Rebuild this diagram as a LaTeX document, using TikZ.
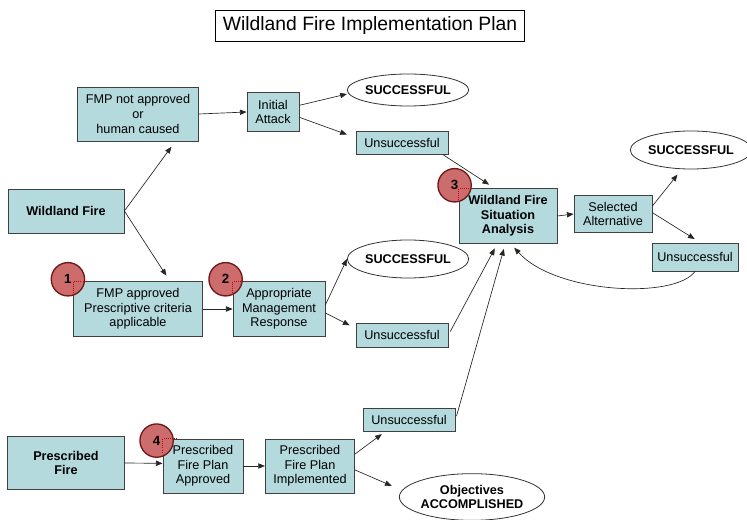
\documentclass[tikz,border=0pt]{standalone}
\usepackage{fontspec}
\setmainfont{Liberation Sans}
\usetikzlibrary{arrows.meta,shapes.geometric}
\definecolor{boxfill}{RGB}{180,218,222}
\definecolor{markfill}{RGB}{205,108,108}
\definecolor{markline}{RGB}{110,25,25}

\begin{document}
\begin{tikzpicture}[x=0.75pt,y=-0.75pt,
  every node/.style = {align=center, font=\fontsize{9.5}{11}\selectfont},
  dims/.style 2 args = {minimum width=#1, minimum height=#2},
  box/.style = {shape=rectangle, draw=black!75, fill=boxfill, line width=0.6pt, inner sep=1pt},
  result/.style = {shape=ellipse, draw=black!80, fill=white, line width=0.6pt, inner sep=0pt,
    font=\fontsize{9.5}{11}\selectfont\bfseries},
  marker/.style = {shape=circle, draw=markline, line width=1pt, fill=markfill,
    minimum size=25pt, inner sep=0pt, font=\fontsize{10}{12}\selectfont\bfseries},
  arr/.style = {-{Triangle[length=5pt,width=4pt]}, black!85, line width=0.5pt}]
  \useasboundingbox (0,0) rectangle (747,520);
  \node[draw, line width=0.6pt, dims={232pt}{23pt}, font=\fontsize{14.5}{16}\selectfont] (title) at (370,26) {Wildland Fire Implementation Plan};

  % wildland fire branch
  \node[box, dims={87pt}{33pt}, font=\fontsize{9.5}{11}\selectfont\bfseries] (wildland) at (66,211) {Wildland Fire};
  \node[box, dims={90.75pt}{40.5pt}] (notappr) at (138,114) {FMP not approved\\or\\human caused};
  \node[box, dims={39pt}{29.25pt}] (initial) at (273,112) {Initial\\Attack};
  \node[result, dims={86pt}{24pt}] (succA) at (408,90) {SUCCESSFUL};
  \node[box, dims={69pt}{17pt}] (unsuccA) at (402,143) {Unsuccessful};
  \node[box, dims={97pt}{41pt}] (appr) at (138,309) {FMP approved\\Prescriptive criteria\\applicable};
  \node[box, dims={69pt}{41pt}] (amr) at (279,309) {Appropriate\\Management\\Response};
  \node[result, dims={88pt}{28.5pt}] (succB) at (408,259) {SUCCESSFUL};
  \node[box, dims={69pt}{18pt}] (unsuccB) at (402,335) {Unsuccessful};

  % situation analysis
  \node[box, dims={73.5pt}{41pt}, font=\fontsize{9.5}{11}\selectfont\bfseries] (wfsa) at (508,216) {Wildland Fire\\Situation\\Analysis};
  \node[box, dims={58.5pt}{28pt}] (selalt) at (613,214) {Selected\\Alternative};
  \node[result, dims={81pt}{28.5pt}] (succC) at (691,150) {SUCCESSFUL};
  \node[box, dims={64.5pt}{21pt}] (unsuccC) at (695,257) {Unsuccessful};

  % prescribed fire branch
  \node[box, dims={88pt}{40pt}, font=\fontsize{9.5}{11}\selectfont\bfseries] (prescribed) at (66,463) {Prescribed\\Fire};
  \node[box, dims={60pt}{40.5pt}] (pfpa) at (203,466) {Prescribed\\Fire Plan\\Approved};
  \node[box, dims={67pt}{40.5pt}] (pfpi) at (310,466) {Prescribed\\Fire Plan\\Implemented};
  \node[box, dims={69pt}{17pt}] (unsuccD) at (409,420) {Unsuccessful};
  \node[result, dims={97.5pt}{35pt}] (objectives) at (472,497) {Objectives\\ACCOMPLISHED};

  % numbered markers
  \node[marker] (m1) at ([shift={(-5,-2)}]appr.north west) {1};
  \node[marker] (m2) at ([shift={(-7,-2)}]amr.north west) {2};
  \node[marker] (m3) at ([shift={(-4,-3)}]wfsa.north west) {3};
  \node[marker] (m4) at ([shift={(-6,2)}]pfpa.north west) {4};
  \foreach \b in {appr,amr,wfsa,pfpa}
    \draw[red!80!black, densely dotted, line width=0.6pt] ([xshift=11pt]\b.north west) -- (\b.north west) -- ([yshift=-10pt]\b.north west);

  \draw[arr, shorten >=5pt] (wildland.east) -- ([xshift=28pt]notappr.south);
  \draw[arr, shorten >=5pt] (wildland.east) -- ([xshift=24pt]appr.north);
  \draw[arr] (notappr.east) -- (initial.west);
  \draw[arr] ([yshift=5pt]initial.east) -- ([yshift=-3pt]succA.west);
  \draw[arr, shorten >=7pt] ([yshift=-4pt]initial.east) -- ([yshift=4pt]unsuccA.west);
  \draw[arr, shorten >=5pt] ([xshift=-4pt]unsuccA.south east) -- ([xshift=-10pt]wfsa.north);
  \draw[arr] (appr.east) -- (amr.west);
  \draw[arr] ([yshift=3pt]amr.east) -- (succB.west);
  \draw[arr, shorten >=5pt] ([yshift=-3pt]amr.east) -- ([yshift=5pt]unsuccB.west);
  \draw[arr, shorten <=3pt, shorten >=4pt] (unsuccB.east) -- ([xshift=-8pt]wfsa.south);
  \draw[arr, shorten <=3pt, shorten >=4pt] (unsuccD.east) -- ([xshift=-2pt]wfsa.south);
  \draw[arr] (wfsa.east) -- (selalt.west);
  \draw[arr, shorten >=5pt] ([yshift=6pt]selalt.east) -- ([xshift=-7pt]succC.south);
  \draw[arr, shorten >=5pt] ([yshift=1pt]selalt.east) -- ([xshift=4pt]unsuccC.north);
  \draw[arr, shorten >=4pt] (unsuccC.south) .. controls +(-20,28) and +(45,50) .. ([xshift=2pt]wfsa.south);
  \draw[arr] (prescribed.east) -- ([yshift=2pt]pfpa.west);
  \draw[arr] (pfpa.east) -- (pfpi.west);
  \draw[arr, shorten >=3pt] ([yshift=9pt]pfpi.east) -- ([xshift=-18pt]unsuccD.south);
  \draw[arr, shorten >=6pt] ([yshift=-3pt]pfpi.east) -- ([yshift=6pt]objectives.west);
\end{tikzpicture}
\end{document}
